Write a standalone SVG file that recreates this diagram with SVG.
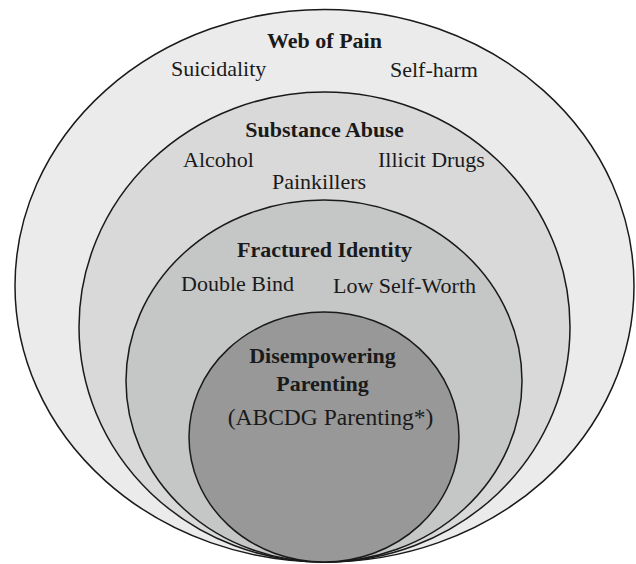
<svg xmlns="http://www.w3.org/2000/svg" width="636" height="564" viewBox="0 0 636 564">
<style>
.ring{stroke:#1a1a1a;stroke-width:1.5}
.t{font-family:"Liberation Serif","Times New Roman",serif;font-size:22px;fill:#1a1a1a}
.b{font-weight:bold}
.m{text-anchor:middle}
</style>
<rect width="636" height="564" fill="#ffffff"/>
<g id="web-of-pain">
<ellipse class="ring" cx="324.5" cy="285.7" rx="309.5" ry="276.3" fill="#ebebeb"/>
<text class="t b m" x="324.5" y="48">Web of Pain</text>
<text class="t" x="171" y="76">Suicidality</text>
<text class="t" x="390" y="77">Self-harm</text>
</g>
<g id="substance-abuse">
<ellipse class="ring" cx="324.5" cy="327" rx="245.5" ry="235" fill="#d9d9d9"/>
<text class="t b m" x="324.5" y="137">Substance Abuse</text>
<text class="t" x="183" y="167">Alcohol</text>
<text class="t" x="378" y="167">Illicit Drugs</text>
<text class="t m" x="319" y="189">Painkillers</text>
</g>
<g id="fractured-identity">
<ellipse class="ring" cx="324" cy="381" rx="198" ry="181" fill="#c5c6c6"/>
<text class="t b m" x="324.5" y="257">Fractured Identity</text>
<text class="t" x="181" y="291">Double Bind</text>
<text class="t" x="333" y="293">Low Self-Worth</text>
</g>
<g id="disempowering-parenting">
<ellipse class="ring" cx="324" cy="437" rx="135" ry="125" fill="#989898"/>
<text class="t b m" x="322.5" y="363">Disempowering</text>
<text class="t b m" x="322.5" y="391">Parenting</text>
<text class="t m" x="330.5" y="425" style="font-size:23.5px">(ABCDG Parenting*)</text>
</g>
<g id="connectors"></g>
</svg>
